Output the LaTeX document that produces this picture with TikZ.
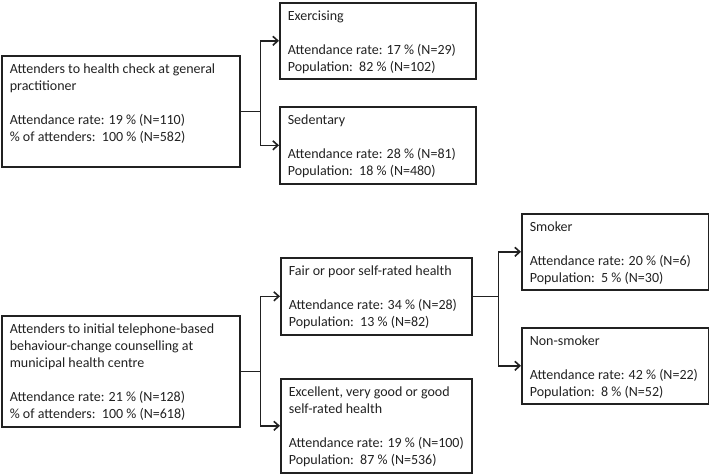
\documentclass[tikz,border=0pt]{standalone}
\usepackage{fontspec}
\setmainfont{Carlito}
\usetikzlibrary{arrows.meta}

\definecolor{inkgray}{gray}{0.13}
\newcommand{\boxtext}[3]{\parbox[t][#2][t]{#1}{\raggedright\rule{0pt}{17.5pt}#3}}

\tikzset{
  flowbox/.style={draw=inkgray, line width=1.6pt, anchor=north west, inner xsep=8pt, inner ysep=0pt, text=inkgray, font=\fontsize{14}{17}\selectfont},
  link/.style={draw=inkgray, line width=1.6pt},
  arrowlink/.style={link, -{Straight Barb[length=5pt,width=9pt]}}
}

\begin{document}
\begin{tikzpicture}[x=1pt, y=-1pt]
  \useasboundingbox (0,0) rectangle (709,474);

  % upper tree
  \node[flowbox] (gp) at (1,55) {\boxtext{222pt}{111pt}{Attenders to health check at general\\practitioner\\[17pt]Attendance rate: 19 \% (N=110)\\\% of attenders:\ \ 100 \% (N=582)}};
  \node[flowbox] (exer) at (279,2) {\boxtext{180pt}{76pt}{Exercising\\[17pt]Attendance rate: 17 \% (N=29)\\Population:\ \ 82 \% (N=102)}};
  \node[flowbox] (sed) at (279,106) {\boxtext{180pt}{77pt}{Sedentary\\[17pt]Attendance rate: 28 \% (N=81)\\Population:\ \ 18 \% (N=480)}};

  % lower tree
  \node[flowbox] (tel) at (1,315) {\boxtext{222pt}{111pt}{Attenders to initial telephone-based\\behaviour-change counselling at\\municipal health centre\\[17pt]Attendance rate: 21 \% (N=128)\\\% of attenders:\ \ 100 \% (N=618)}};
  \node[flowbox] (poor) at (280,257) {\boxtext{175pt}{77pt}{Fair or poor self-rated health\\[17pt]Attendance rate: 34 \% (N=28)\\Population:\ \ 13 \% (N=82)}};
  \node[flowbox] (good) at (280,378) {\boxtext{175pt}{94pt}{Excellent, very good or good\\self-rated health\\[17pt]Attendance rate: 19 \% (N=100)\\Population:\ \ 87 \% (N=536)}};
  \node[flowbox] (smok) at (521,213) {\boxtext{171pt}{76pt}{Smoker\\[17pt]Attendance rate: 20 \% (N=6)\\Population:\ \ 5 \% (N=30)}};
  \node[flowbox] (nonsmok) at (521,327) {\boxtext{171pt}{76pt}{Non-smoker\\[17pt]Attendance rate: 42 \% (N=22)\\Population:\ \ 8 \% (N=52)}};

  % branch points
  \coordinate (splitgp) at ([xshift=20pt]gp.east);
  \coordinate (splittel) at ([xshift=20pt]tel.east);
  \coordinate (splitpoor) at ([xshift=26pt]poor.east);

  \draw[link] (gp.east) -- (splitgp);
  \draw[arrowlink] (splitgp) |- (exer.west);
  \draw[arrowlink] (splitgp) |- (sed.west);

  \draw[link] (tel.east) -- (splittel);
  \draw[arrowlink] (splittel) |- (poor.west);
  \draw[arrowlink] (splittel) |- (good.west);

  \draw[link] (poor.east) -- (splitpoor);
  \draw[arrowlink] (splitpoor) |- (smok.west);
  \draw[arrowlink] (splitpoor) |- (nonsmok.west);
\end{tikzpicture}
\end{document}
